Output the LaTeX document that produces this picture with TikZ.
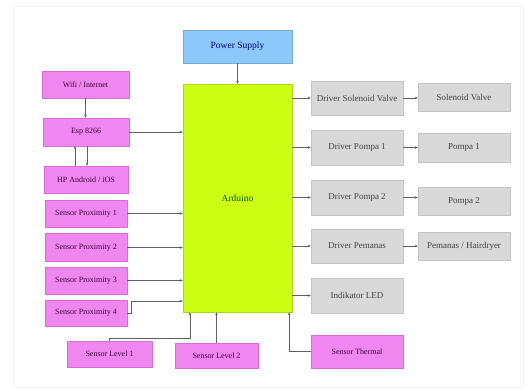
\documentclass[tikz,border=0pt]{standalone}
\usepackage{fontspec}
\setmainfont{Liberation Serif}
\usepackage{xcolor}
\usetikzlibrary{positioning,calc,arrows.meta}

\definecolor{pinkfill}{RGB}{240,134,240}
\definecolor{pinkline}{RGB}{214,110,214}
\definecolor{grayfill}{RGB}{217,217,217}
\definecolor{grayline}{RGB}{196,196,196}
\definecolor{limefill}{RGB}{204,255,20}
\definecolor{bluefill}{RGB}{140,200,250}
\definecolor{wireline}{RGB}{95,95,105}

\tikzset{
    box/.style={draw, rectangle, inner sep=0pt, align=center},
    pinkbox/.style={box, fill=pinkfill, draw=pinkline, text=violet!50!black, font=\fontsize{8}{9}\selectfont},
    graybox/.style={box, fill=grayfill, draw=grayline, text=black!75, font=\fontsize{9}{10}\selectfont},
    conn/.style={draw=wireline, line width=0.5pt, -{Stealth[length=3pt,width=2.6pt]}}
}

\begin{document}
\begin{tikzpicture}[x=1pt, y=-1pt]
    \useasboundingbox (0,0) rectangle (531,390);
    % Frame
    \draw[gray!10, line width=1pt] (13,7) rectangle (523,388);

    % Controller and supply
    \node[box, fill=bluefill, draw=bluefill!85!black, text=blue!45!black, font=\fontsize{9.5}{11}\selectfont,
          minimum width=109pt, minimum height=33pt] (power) at (237.5,46.5) {Power Supply};
    \node[box, fill=limefill, draw=limefill!85!black, text=green!35!black, font=\fontsize{9.5}{11}\selectfont,
          minimum width=109pt, minimum height=228pt] (arduino) at (237.5,198) {Arduino};

    % Left side
    \node[pinkbox, minimum width=87pt, minimum height=27pt] (wifi) at (85.5,84.5) {Wifi / Internet};
    \node[pinkbox, minimum width=86pt, minimum height=28pt] (esp) at (86,132) {Esp 8266};
    \node[pinkbox, minimum width=84pt, minimum height=27pt] (hp) at (86,179.5) {HP Android / iOS};
    \node[pinkbox, minimum width=82pt, minimum height=27pt] (prox1) at (86,213.5) {Sensor Proximity 1};
    \node[pinkbox, minimum width=82pt, minimum height=28pt] (prox2) at (86,247.5) {Sensor Proximity 2};
    \node[pinkbox, minimum width=82pt, minimum height=27pt] (prox3) at (86,280.5) {Sensor Proximity 3};
    \node[pinkbox, minimum width=82pt, minimum height=26pt] (prox4) at (86,313) {Sensor Proximity 4};

    % Bottom side
    \node[pinkbox, minimum width=85pt, minimum height=26pt] (lvl1) at (109.5,354) {Sensor Level 1};
    \node[pinkbox, minimum width=83pt, minimum height=25pt] (lvl2) at (216.5,355.5) {Sensor Level 2};
    \node[pinkbox, minimum width=92pt, minimum height=33pt] (thermal) at (357,351.5) {Sensor Thermal};

    % Right side
    \node[graybox, minimum width=92pt, minimum height=34pt] (drvsol) at (357,98) {Driver Solenoid Valve};
    \node[graybox, minimum width=92pt, minimum height=35pt] (drvp1) at (357,147.5) {Driver Pompa 1};
    \node[graybox, minimum width=92pt, minimum height=35pt] (drvp2) at (357,197.5) {Driver Pompa 2};
    \node[graybox, minimum width=92pt, minimum height=34pt] (drvpem) at (357,246) {Driver Pemanas};
    \node[graybox, minimum width=92pt, minimum height=35pt] (led) at (357,295.5) {Indikator LED};

    \node[graybox, minimum width=92pt, minimum height=28pt] (sol) at (464,97) {Solenoid Valve};
    \node[graybox, minimum width=92pt, minimum height=29pt] (pompa1) at (464,147.5) {Pompa 1};
    \node[graybox, minimum width=92pt, minimum height=28pt] (pompa2) at (464,201) {Pompa 2};
    \node[graybox, minimum width=92pt, minimum height=28pt] (pemanas) at (464,246) {Pemanas / Hairdryer};

    % Connectors
    \draw[conn] (power) -- (arduino);
    \draw[conn] (wifi.south) -- (wifi.south |- esp.north);
    \draw[conn] ([xshift=1pt]esp.south) -- ([xshift=1pt]esp.south |- hp.north);
    \draw[conn] ([xshift=-11pt]esp.south |- hp.north) -- ([xshift=-11pt]esp.south);
    \draw[conn] (esp.east) -- (esp.east -| arduino.west);
    \draw[conn] (prox1.east) -- (prox1.east -| arduino.west);
    \draw[conn] (prox2.east) -- (prox2.east -| arduino.west);
    \draw[conn] (prox3.east) -- (prox3.east -| arduino.west);
    \draw[conn] (prox4.east) -- ++(4pt,0pt) |- ([yshift=12pt]prox4.east -| arduino.west);
    \draw[conn] (lvl1.north) -- ++(0pt,3pt) -| ([xshift=7pt]arduino.south west);
    \draw[conn] (lvl2.north) -- (lvl2.north |- arduino.south);
    \draw[conn] (thermal.west) -| ([xshift=-3pt]arduino.south east);

    \draw[conn] (arduino.east |- drvsol.west) -- (drvsol.west);
    \draw[conn] (arduino.east |- drvp1.west) -- (drvp1.west);
    \draw[conn] (arduino.east |- drvp2.west) -- (drvp2.west);
    \draw[conn] (arduino.east |- drvpem.west) -- (drvpem.west);
    \draw[conn] (arduino.east |- led.west) -- (led.west);

    \draw[conn] (drvsol.east) -- (drvsol.east -| sol.west);
    \draw[conn] (drvp1.east) -- (drvp1.east -| pompa1.west);
    \draw[conn] (drvp2.east) -- (drvp2.east -| pompa2.west);
    \draw[conn] (drvpem.east) -- (drvpem.east -| pemanas.west);
\end{tikzpicture}
\end{document}
